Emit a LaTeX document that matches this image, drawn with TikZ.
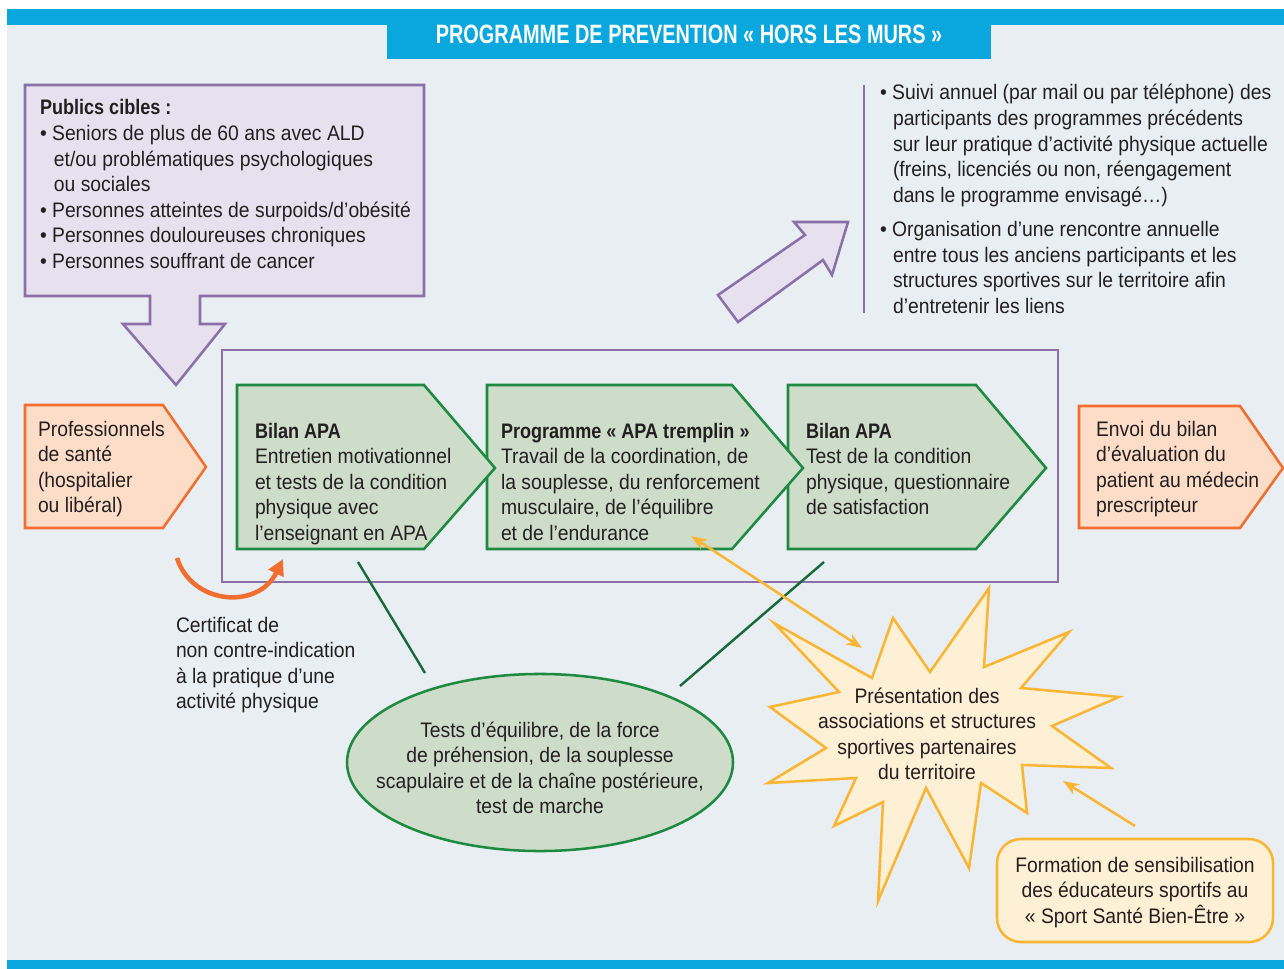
\documentclass[tikz,border=0pt]{standalone}
\usepackage{fontspec}
\setmainfont{Liberation Sans}[FakeStretch=0.92,BoldFeatures={FakeStretch=0.86}]
\newfontfamily\titlefont{Liberation Sans}[FakeStretch=0.75]
\usetikzlibrary{arrows.meta}
\definecolor{bgc}{HTML}{E8EEF1}
\definecolor{barblue}{HTML}{0AA7DF}
\definecolor{lavfill}{HTML}{E7E1EF}
\definecolor{lavline}{HTML}{8A70A8}
\definecolor{grfill}{HTML}{CEDCCA}
\definecolor{grline}{HTML}{1E8A41}
\definecolor{dkgreen}{HTML}{17693A}
\definecolor{peach}{HTML}{FDDDC7}
\definecolor{orline}{HTML}{F26E30}
\definecolor{cream}{HTML}{FEF0D4}
\definecolor{yel}{HTML}{FBB534}
\definecolor{ink}{HTML}{231F20}
\newcommand\fs{\fontsize{15.75pt}{19.2pt}\selectfont}
\begin{document}
\begin{tikzpicture}[x=0.75pt,y=-0.75pt,
  txt/.style={inner sep=0pt,outer sep=0pt,text=ink,font=\fs},
  lavshape/.style={draw=lavline,fill=lavfill,line width=1.9pt,line join=miter},
  grshape/.style={draw=grline,fill=grfill,line width=1.9pt,line join=miter},
  orshape/.style={draw=orline,fill=peach,line width=1.9pt,line join=miter},
  yelshape/.style={draw=yel,fill=cream,line width=1.9pt,line join=miter},
  frameline/.style={draw=lavline,line width=1.9pt},
  greenlink/.style={draw=dkgreen,line width=1.8pt},
  yellink/.style={draw=yel,line width=1.9pt},
  yeltip/.style={Stealth[length=12pt,width=9pt]}
]
\useasboundingbox (0,0) rectangle (1284,969);
\fill[white] (0,0) rectangle (1284,969);
\fill[bgc] (7,9) rectangle (1284,960);
\fill[barblue] (7,9) rectangle (1284,25);
\fill[barblue] (387,9) rectangle (991,59);
\fill[barblue] (7,960) rectangle (1284,969);
\node[inner sep=0pt,anchor=base,text=white,font=\titlefont\bfseries\fontsize{19.9pt}{24pt}\selectfont] (title) at (689,44) {PROGRAMME DE PREVENTION « HORS LES MURS »};

% Publics cibles box with down arrow
\draw[lavshape] (25,85) -- (424,85) -- (424,296) -- (200,296) -- (200,324) -- (225,324) -- (176,385) -- (123,324) -- (150,324) -- (150,296) -- (25,296) -- cycle;
\node[txt,anchor=base west] (publics) at (40,115) {\parbox[t]{380pt}{\fs\raggedright
\textbf{Publics cibles :}\\
\textbullet\ Seniors de plus de 60 ans avec ALD\\
\hspace*{10.5pt}et/ou problématiques psychologiques\\
\hspace*{10.5pt}ou sociales\\
\textbullet\ Personnes atteintes de surpoids/d’obésité\\
\textbullet\ Personnes douloureuses chroniques\\
\textbullet\ Personnes souffrant de cancer}};

% diagonal arrow
\draw[lavshape] (718,295) -- (805,235) -- (794,222) -- (848,222) -- (832,275) -- (823,260) -- (738,322) -- cycle;

% vertical line and follow-up text
\coordinate (vtop) at (864,85);
\coordinate (vbot) at (864,313);
\draw[lavline,line width=1.6pt] (vtop) -- (vbot);
\node[txt,anchor=base west] (suivi) at (880,100) {\parbox[t]{400pt}{\fs\raggedright
\textbullet\ Suivi annuel (par mail ou par téléphone) des\\
\hspace*{9.75pt}participants des programmes précédents\\
\hspace*{9.75pt}sur leur pratique d’activité physique actuelle\\
\hspace*{9.75pt}(freins, licenciés ou non, réengagement\\
\hspace*{9.75pt}dans le programme envisagé…)\\[6.4pt]
\textbullet\ Organisation d’une rencontre annuelle\\
\hspace*{9.75pt}entre tous les anciens participants et les\\
\hspace*{9.75pt}structures sportives sur le territoire afin\\
\hspace*{9.75pt}d’entretenir les liens}};

% main frame
\draw[frameline] (222,350) rectangle (1058,582);

% green pentagons (drawn right to left so tips overlap)
\draw[grshape] (788,385) -- (976,385) -- (1046,468) -- (976,549) -- (788,549) -- cycle;
\draw[grshape] (487,385) -- (732,385) -- (803,468) -- (732,549) -- (487,549) -- cycle;
\draw[grshape] (237,385) -- (424,385) -- (495,468) -- (424,549) -- (237,549) -- cycle;

\node[txt,anchor=base west] (bilan1) at (255,438) {\parbox[t]{220pt}{\fs\raggedright
\textbf{Bilan APA}\\
Entretien motivationnel\\
et tests de la condition\\
physique avec\\
l’enseignant en APA}};
\node[txt,anchor=base west] (tremplin) at (501,438) {\parbox[t]{280pt}{\fs\raggedright
\textbf{Programme « APA tremplin »}\\
Travail de la coordination, de\\
la souplesse, du renforcement\\
musculaire, de l’équilibre\\
et de l’endurance}};
\node[txt,anchor=base west] (bilan2) at (806,438) {\parbox[t]{220pt}{\fs\raggedright
\textbf{Bilan APA}\\
Test de la condition\\
physique, questionnaire\\
de satisfaction}};

% orange pentagons
\draw[orshape] (25,405) -- (163,405) -- (206,467) -- (163,528) -- (25,528) -- cycle;
\node[txt,anchor=base west] (pros) at (38,436) {\parbox[t]{150pt}{\fs\raggedright
Professionnels\\
de santé\\
(hospitalier\\
ou libéral)}};
\draw[orshape] (1079,406) -- (1240,406) -- (1283,468) -- (1240,528) -- (1079,528) -- cycle;
\node[txt,anchor=base west] (envoi) at (1096,436) {\parbox[t]{150pt}{\fs\raggedright
Envoi du bilan\\
d’évaluation du\\
patient au médecin\\
prescripteur}};

% orange curved arrow
\coordinate (cstart) at (177,558);
\coordinate (cend) at (283,559);
\draw[orline,line width=3.4pt,-{Triangle[length=12pt,width=12pt]}] (cstart) .. controls (192,605) and (258,610) .. (cend);
\node[txt,anchor=base west] (certif) at (176,632) {\parbox[t]{200pt}{\fs\raggedright
Certificat de\\
non contre-indication\\
à la pratique d’une\\
activité physique}};

% green links and ellipse
\coordinate (g1a) at (358,562);
\coordinate (g1b) at (425,673);
\coordinate (g2a) at (824,562);
\coordinate (g2b) at (680,686);
\draw[greenlink] (g1a) -- (g1b);
\draw[greenlink] (g2a) -- (g2b);
\draw[grshape] (540,762.5) ellipse [x radius=144.75pt, y radius=66.4pt];
\node[txt,anchor=base] (tests) at (540,737) {\parbox[t]{300pt}{\fs\centering
Tests d’équilibre, de la force\\
de préhension, de la souplesse\\
scapulaire et de la chaîne postérieure,\\
test de marche}};

% star
\draw[yelshape] (989,588) -- (984,667) -- (1069,632) -- (1021,688) -- (1119,697) -- (1052,726) -- (1111,768) -- (1022,765) -- (1027,813) -- (981,783) -- (969,868) -- (926,788) -- (878,901) -- (883,802) -- (834,826) -- (856,778) -- (768,783) -- (826,748) -- (770,707) -- (839,692) -- (774,623) -- (872,678) -- (893,618) -- (930,672) -- cycle;
\node[txt,anchor=base] (assoc) at (927,703) {\parbox[t]{240pt}{\fs\centering
Présentation des\\
associations et structures\\
sportives partenaires\\
du territoire}};

% yellow double arrow
\coordinate (ya1) at (691,536);
\coordinate (ya2) at (862,648);
\draw[yellink,{Stealth[length=12pt,width=9pt]}-{Stealth[length=12pt,width=9pt]}] (ya1) -- (ya2);

% formation box
\draw[yelshape,rounded corners=18pt] (997,839) rectangle (1273,942);
\node[txt,anchor=base] (formation) at (1135,872) {\parbox[t]{220pt}{\fs\centering
Formation de sensibilisation\\
des éducateurs sportifs au\\
« Sport Santé Bien-Être »}};
\coordinate (yb1) at (1135,826);
\coordinate (yb2) at (1063,781);
\draw[yellink,-{Stealth[length=12pt,width=9pt]}] (yb1) -- (yb2);
\end{tikzpicture}
\end{document}
